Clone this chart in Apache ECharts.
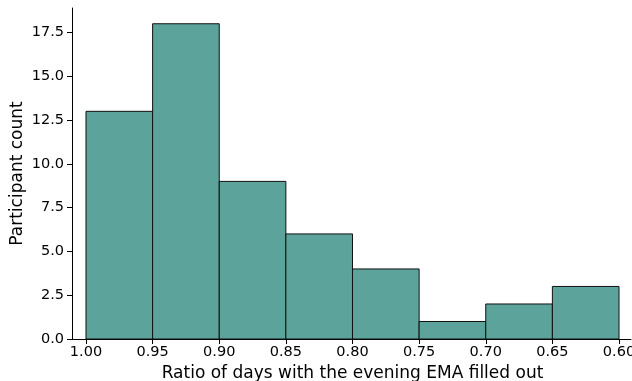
<!DOCTYPE html>
<html><head><meta charset="utf-8">
<script src="https://cdn.jsdelivr.net/npm/echarts@6/dist/echarts.min.js"></script>
<style>html,body{margin:0;padding:0;background:#fff}#c{width:632px;height:381px}</style>
</head><body><div id="c"></div>
<script>
const binStarts = [1.00, 0.95, 0.90, 0.85, 0.80, 0.75, 0.70, 0.65];
const binWidth = 0.05;
const counts = [13, 18, 9, 6, 4, 1, 2, 3];
const xTicks = [1.00, 0.95, 0.90, 0.85, 0.80, 0.75, 0.70, 0.65, 0.60];

const font = 'DejaVu Sans';
const chart = echarts.init(document.getElementById('c'), null, {renderer: 'canvas'});
const data = binStarts.map((s, i) => [s, s - binWidth, counts[i]]);
chart.setOption({
  animation: false,
  grid: [
    {left: 72, right: 1, top: 8, bottom: 42, containLabel: false, outerBoundsMode: 'none'},
    {left: 86, right: 13, top: 8, bottom: 42, containLabel: false, outerBoundsMode: 'none'}
  ],
  xAxis: [
    {gridIndex: 0, type: 'value', min: 0.591, max: 1.0105, inverse: true,
     axisLine: {show: true, onZero: false, lineStyle: {color: '#000', width: 1}},
     axisTick: {show: false}, axisLabel: {show: false}, splitLine: {show: false}},
    {gridIndex: 1, type: 'value', min: 0.6, max: 1.0, interval: 0.05, inverse: true,
     axisLine: {show: false},
     axisTick: {show: true, length: 5, lineStyle: {color: '#000'}},
     axisLabel: {show: true, color: '#000', fontFamily: font, fontSize: 14.5, margin: 6,
       formatter: v => v.toFixed(2)},
     splitLine: {show: false},
     name: 'Ratio of days with the evening EMA filled out', nameLocation: 'middle', nameGap: 35,
     nameMoveOverlap: false,
     nameTextStyle: {color: '#000', fontFamily: font, fontSize: 17, verticalAlign: 'middle'}},
  ],
  yAxis: [
    {gridIndex: 0, type: 'value', min: 0, max: 18.9, interval: 2.5,
     axisLine: {show: true, lineStyle: {color: '#000', width: 1}},
     axisTick: {show: true, length: 5, lineStyle: {color: '#000'}},
     axisLabel: {color: '#000', fontFamily: font, fontSize: 14.5, margin: 8, showMaxLabel: false,
       formatter: v => (v > 18 ? '' : v.toFixed(1))},
     splitLine: {show: false},
     name: 'Participant count', nameLocation: 'middle', nameGap: 54,
     nameMoveOverlap: false,
     nameTextStyle: {color: '#000', fontFamily: font, fontSize: 17, verticalAlign: 'middle'}},
    {gridIndex: 1, type: 'value', min: 0, max: 18.9, show: false}
  ],
  series: [{
    type: 'custom', xAxisIndex: 0, yAxisIndex: 0,
    data: data,
    renderItem: function (params, api) {
      const p0 = api.coord([api.value(0), api.value(2)]);
      const p1 = api.coord([api.value(1), 0]);
      return {
        type: 'rect',
        shape: {x: Math.min(p0[0], p1[0]), y: p0[1], width: Math.abs(p1[0] - p0[0]), height: p1[1] - p0[1]},
        style: {fill: '#5ca39b', stroke: '#111', lineWidth: 1}
      };
    },
    encode: {x: [0, 1], y: 2}
  }]
});
</script></body></html>
